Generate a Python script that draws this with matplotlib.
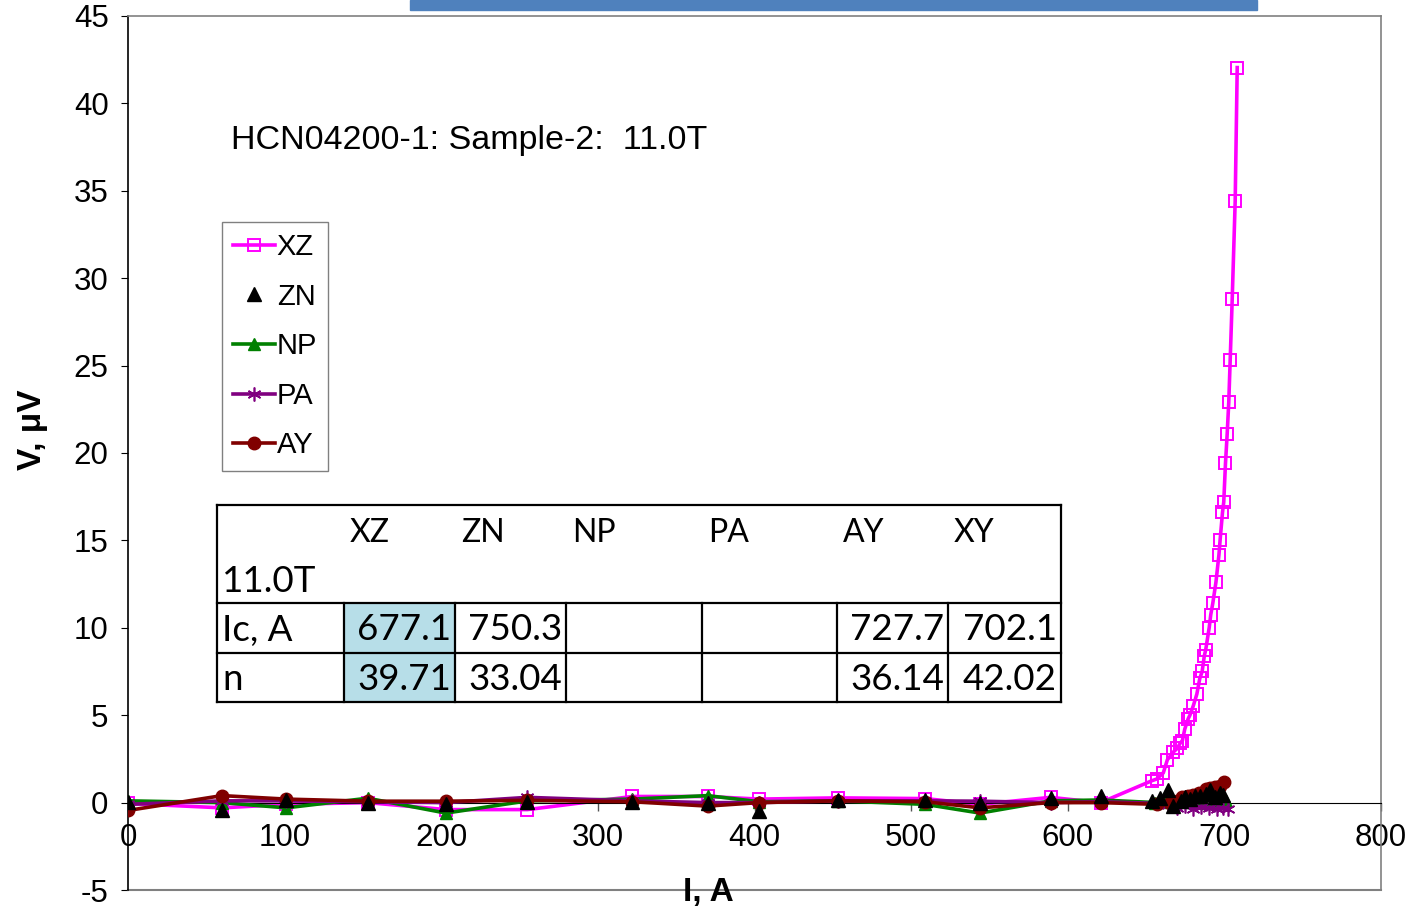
import matplotlib
matplotlib.use("Agg")
import matplotlib.pyplot as plt
from matplotlib.patches import Rectangle
from matplotlib.lines import Line2D

plt.rcParams['font.family'] = ['Liberation Sans', 'DejaVu Sans']
plt.rcParams['axes.unicode_minus'] = False

# low-current points shared by all series
i_low = [0, 60, 101, 153, 203, 255, 322, 370, 403, 453, 509, 544, 589, 621]

xz_i = i_low + [653.7, 656.8, 661, 663.6, 667.5, 669.9, 671.8, 673.2, 674.7, 676.9,
                678, 680.2, 682.4, 684.3, 685.8, 687.2, 688.1, 690.3, 691.3, 692.6,
                694.6, 696.5, 697.3, 698.8, 699.6, 700.7, 701.8, 702.8, 703.7, 705,
                706.9, 708.2]
xz_v = [-0.05, -0.3, -0.1, 0.0, -0.4, -0.4, 0.35, 0.35, 0.2, 0.27, 0.23, -0.1, 0.3, 0.0,
        1.25, 1.35, 1.7, 2.45, 2.9, 3.1, 3.4, 3.55, 4.2, 4.8,
        5.0, 5.55, 6.2, 7.1, 7.5, 8.4, 8.75, 10.0, 10.75, 11.4,
        12.6, 14.15, 15.05, 16.6, 17.2, 19.4, 21.1, 22.9, 25.3, 28.8,
        34.4, 42.05]

zn_i = i_low + [654, 659, 664, 667.5, 672, 675, 678, 681, 684.5, 688, 691, 694, 697, 699]
zn_v = [0.05, -0.4, 0.17, 0.0, -0.1, 0.05, 0.05, 0.0, -0.5, 0.17, 0.17, 0.0, 0.27, 0.36,
        0.1, 0.25, 0.7, -0.2, 0.1, 0.3, 0.2, 0.4, 0.35, 0.5, 0.7, 0.3, 0.55, 0.45]

np_i = i_low + [656, 662, 668, 673, 678, 683, 688, 693, 698, 701]
np_v = [0.1, 0.0, -0.3, 0.25, -0.6, 0.1, 0.2, 0.4, 0.05, 0.1, -0.1, -0.6, 0.1, 0.15,
        0.0, 0.05, 0.0, 0.1, 0.05, 0.1, 0.0, 0.1, 0.05, 0.1]

pa_i = i_low + [658, 664, 670, 675, 680, 685, 690, 695, 699, 702]
pa_v = [-0.1, 0.1, 0.1, 0.05, 0.0, 0.3, 0.1, 0.0, 0.0, 0.1, 0.1, 0.08, 0.0, 0.05,
        -0.05, -0.15, -0.3, -0.2, -0.35, -0.25, -0.3, -0.35, -0.3, -0.35]

ay_i = i_low + [657, 665, 670, 673, 677, 680, 684, 688, 691, 694, 697, 700]
ay_v = [-0.45, 0.4, 0.2, 0.08, 0.08, 0.13, 0.05, -0.2, 0.0, 0.1, 0.05, -0.3, 0.0, 0.0,
        -0.1, 0.0, 0.1, 0.3, 0.35, 0.45, 0.55, 0.75, 0.85, 0.9, 0.95, 1.15]

# table contents
tbl_cols = ['XZ', 'ZN', 'NP', 'PA', 'AY', 'XY']
tbl_field = '11.0T'
tbl_ic = ['677.1', '750.3', '', '', '727.7', '702.1']
tbl_n = ['39.71', '33.04', '', '', '36.14', '42.02']

W, H = 1405, 915
fig = plt.figure(figsize=(W / 100, H / 100), dpi=100)
ax = fig.add_axes([128 / W, 1 - 890 / H, (1381 - 128) / W, (890 - 16) / H])

ast = (6, 2, 0)
ax.plot(xz_i, xz_v, color='#FF00FF', lw=2.6, marker='s', ms=9, mfc='none',
        mec='#FF00FF', mew=1.4, zorder=2, label='XZ')
ax.plot(np_i, np_v, color='#008000', lw=2.6, marker='^', ms=9, zorder=3, label='NP')
ax.plot(pa_i, pa_v, color='#800080', lw=2.6, marker=ast, ms=10, mew=1.2, zorder=3.5, label='PA')
ax.plot(ay_i, ay_v, color='#800000', lw=2.6, marker='o', ms=9, zorder=4, label='AY')
ax.plot(zn_i, zn_v, ls='none', color='black', marker='^', ms=10, zorder=5, label='ZN')

ax.set_xlim(0, 800)
ax.set_ylim(-5, 45)
ax.set_xticks(range(0, 801, 100))
ax.set_yticks(range(-5, 46, 5))
ax.spines['bottom'].set_position(('data', 0))
ax.spines['bottom'].set_color('black')
ax.spines['left'].set_color('black')
ax.spines['left'].set_linewidth(1.2)
for s in ['top', 'right']:
    ax.spines[s].set_color('#808080')
    ax.spines[s].set_linewidth(1.2)
ax.plot([0, 1], [0, 0], transform=ax.transAxes, color='#808080', lw=1.5, clip_on=False)
ax.tick_params(axis='x', labelsize=22.5, length=6, width=1, color='#555555', pad=9)
ax.tick_params(axis='y', labelsize=22.5, length=5, pad=9)

fig.text(32 / W, 1 - 430 / H, 'V, μV', rotation=90, fontsize=24, fontweight='bold',
         ha='center', va='center')
fig.text(708 / W, 1 - 893 / H, 'I, A', fontsize=24, fontweight='bold',
         ha='center', va='center')
fig.text(231 / W, 1 - 140 / H, 'HCN04200-1: Sample-2:  11.0T', fontsize=24.5,
         ha='left', va='center')

# legend order as in the chart
handles, labels = ax.get_legend_handles_labels()
order = ['XZ', 'ZN', 'NP', 'PA', 'AY']
hmap = dict(zip(labels, handles))
leg = fig.legend([hmap[k] for k in order], order, loc='upper left',
                 bbox_to_anchor=(222 / W, 1 - 222 / H), fontsize=21, frameon=True,
                 fancybox=False, framealpha=1, edgecolor='#808080', borderaxespad=0,
                 handlelength=1.45, handletextpad=0.05, labelspacing=0.74,
                 borderpad=0.38, numpoints=1)
leg.get_frame().set_linewidth(1)

# blue bar at top of slide
fig.patches.append(Rectangle((410 / W, 1 - 10 / H), (1257 - 410) / W, 10 / H,
                             transform=fig.transFigure, color='#4F81BD', zorder=0))

# table
col_x = [217, 344, 455, 566, 702, 837, 948, 1061]
row_y = [505, 603, 653, 702]
tfont = dict(family=['Lato', 'DejaVu Sans'], fontsize=26.5)
hfont = dict(family=['Lato', 'DejaVu Sans'], fontsize=23)


def fx(px):
    return px / W


def fy(py):
    return 1 - py / H


fig.patches.append(Rectangle((fx(col_x[0]), fy(row_y[-1])), fx(col_x[-1]) - fx(col_x[0]),
                             fy(row_y[0]) - fy(row_y[-1]), transform=fig.transFigure,
                             facecolor='white', edgecolor='none', zorder=5))
for r in range(1, 3):
    fig.patches.append(Rectangle((fx(col_x[1]), fy(row_y[r + 1])), fx(col_x[2]) - fx(col_x[1]),
                                 fy(row_y[r]) - fy(row_y[r + 1]), transform=fig.transFigure,
                                 facecolor='#B7DEE8', edgecolor='none', zorder=5.5))
for yy in row_y:
    fig.add_artist(Line2D([fx(col_x[0]), fx(col_x[-1])], [fy(yy), fy(yy)],
                          color='black', lw=1.6, zorder=6))
for k, xx in enumerate(col_x):
    top = row_y[0] if k in (0, len(col_x) - 1) else row_y[1]
    fig.add_artist(Line2D([fx(xx), fx(xx)], [fy(top), fy(row_y[-1])],
                          color='black', lw=1.6, zorder=6))

for k, name in enumerate(tbl_cols):
    fig.text(fx(col_x[k + 1] + 6), fy(533), name, ha='left', va='center', zorder=7, **hfont)
fig.text(fx(col_x[0] + 5), fy(581), tbl_field, ha='left', va='center', zorder=7, **tfont)
fig.text(fx(col_x[0] + 5), fy(630), 'Ic, A', ha='left', va='center', zorder=7, **tfont)
fig.text(fx(col_x[0] + 5), fy(680), 'n', ha='left', va='center', zorder=7, **tfont)
for k in range(len(tbl_cols)):
    fig.text(fx(col_x[k + 2] - 4), fy(630), tbl_ic[k], ha='right', va='center', zorder=7, **tfont)
    fig.text(fx(col_x[k + 2] - 4), fy(680), tbl_n[k], ha='right', va='center', zorder=7, **tfont)

fig.savefig('out.png', dpi=100)
